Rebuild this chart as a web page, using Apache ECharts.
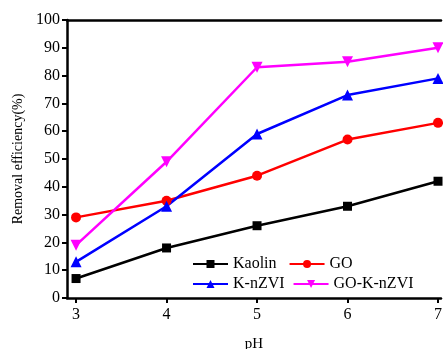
<!DOCTYPE html>
<html><head><meta charset="utf-8">
<script src="https://cdn.jsdelivr.net/npm/echarts@6/dist/echarts.min.js"></script>
<style>html,body{margin:0;padding:0;background:#fff}#c{width:443px;height:349px}</style>
</head><body><div id="c"></div>
<script>
var pH = [3, 4, 5, 6, 7];
var xTicks = [3, 4, 5, 6, 7];
var kaolin = [7, 18, 26, 33, 42];
var go = [29, 35, 44, 57, 63];
var knzvi = [13, 33, 59, 73, 79];
var goknzvi = [19, 49, 83, 85, 90];
var seriesNames = ['Kaolin', 'GO', 'K-nZVI', 'GO-K-nZVI'];

function pairs(v){ return pH.map(function(x,i){ return [x, v[i]]; }); }
var font = 'Liberation Serif, Times New Roman, serif';
var chart = echarts.init(document.getElementById('c'));
function mk(name, data, color, symbol, size, rot){
  return {name:name, type:'line', data:pairs(data), symbol:symbol, symbolSize:size, symbolRotate:rot||0,
    lineStyle:{color:color, width:2.5}, itemStyle:{color:color}, animation:false, z:3};
}
chart.setOption({
  animation:false,
  grid:{left:67, right:2, top:20, bottom:51, containLabel:false, outerBoundsMode:'none'},
  legend:[
    {data:[seriesNames[0], seriesNames[1]], left:192, top:256, padding:0, itemWidth:35, itemHeight:10, itemGap:12,
     textStyle:{fontFamily:font, fontSize:16, color:'#000'}},
    {data:[seriesNames[2], seriesNames[3]], left:192, top:276, padding:0, itemWidth:35, itemHeight:10, itemGap:8,
     textStyle:{fontFamily:font, fontSize:16, color:'#000'}}
  ],
  xAxis:[{
    type:'value', min:2.9, max:7.033, name:'pH', nameLocation:'middle', nameGap:39,
    nameTextStyle:{fontFamily:font, fontSize:15, color:'#000'},
    axisLine:{lineStyle:{color:'#000', width:2.5}},
    axisTick:{show:true, length:5, lineStyle:{width:2, color:'#000'}, customValues:xTicks},
    axisLabel:{fontFamily:font, fontSize:16, color:'#000', margin:9, customValues:xTicks},
    splitLine:{show:false}
  },{
    type:'value', position:'top', min:2.9, max:7.033,
    axisLine:{show:true, lineStyle:{color:'#000', width:2.5}},
    axisTick:{show:false}, axisLabel:{show:false}, splitLine:{show:false}
  }],
  yAxis:{
    type:'value', min:0, max:100, interval:10, name:'Removal efficiency(%)', nameLocation:'middle', nameGap:42,
    nameTextStyle:{fontFamily:font, fontSize:14, color:'#000'},
    axisLine:{show:true, lineStyle:{color:'#000', width:2.5}},
    axisTick:{show:true, length:5, lineStyle:{width:2, color:'#000'}},
    axisLabel:{fontFamily:font, fontSize:16, color:'#000', margin:7},
    splitLine:{show:false}
  },
  series:[
    mk(seriesNames[0], kaolin, '#000000', 'rect', 9),
    mk(seriesNames[1], go, '#ff0000', 'circle', 10),
    mk(seriesNames[2], knzvi, '#0000ff', 'triangle', 11),
    mk(seriesNames[3], goknzvi, '#ff00ff', 'triangle', 11, 180)
  ]
});
</script></body></html>
